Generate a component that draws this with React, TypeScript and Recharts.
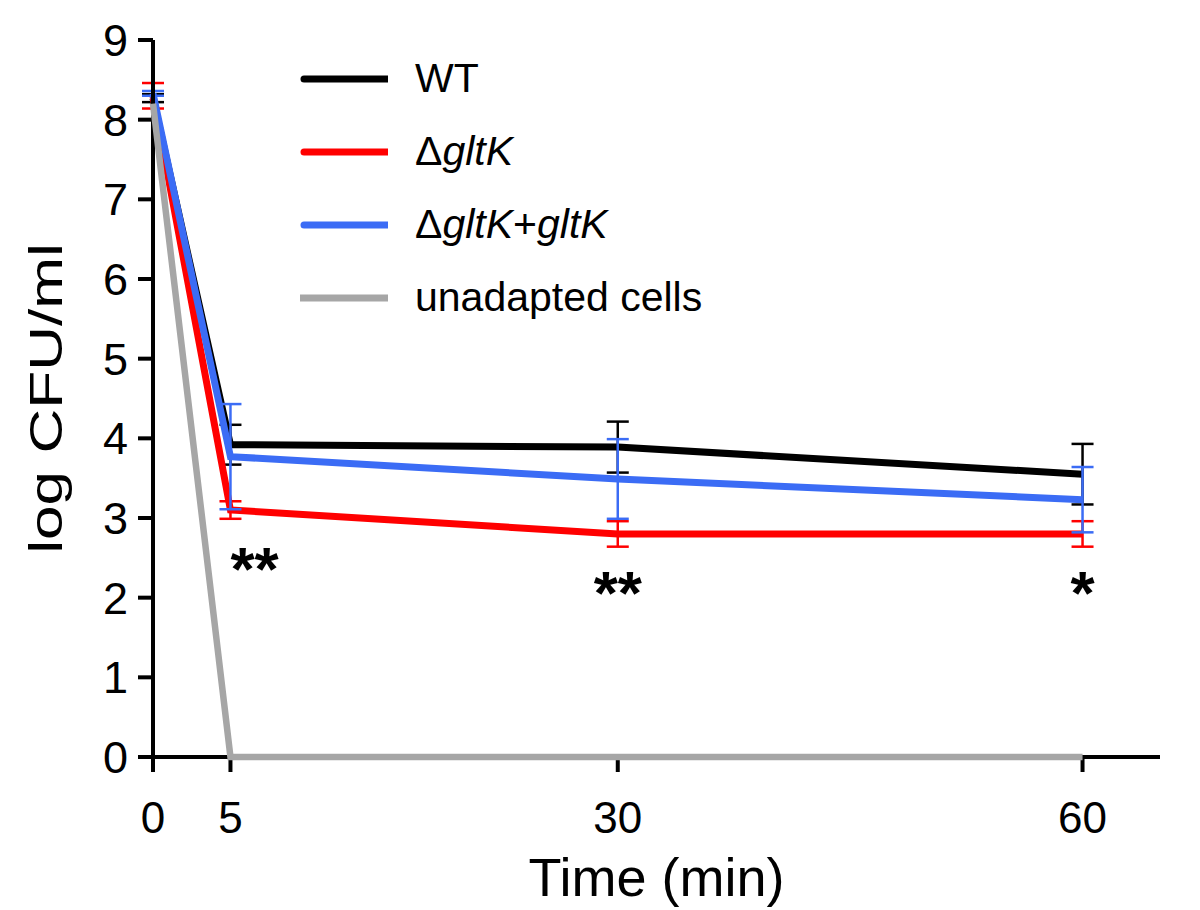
import { ErrorBar, LabelList, Label, Legend, Line, LineChart, XAxis, YAxis } from 'recharts';

const FONT = '"Liberation Sans", Arial, sans-serif';

// sampling times (min)
const times = [0, 5, 30, 60];

// log CFU/ml, mean and error bar half-length
const wtMean = [8.27, 3.92, 3.89, 3.55];
const wtErr = [0.05, 0.25, 0.32, 0.38];
const mutantMean = [8.3, 3.1, 2.8, 2.8];
const mutantErr = [0.16, 0.11, 0.16, 0.16];
const compMean = [8.33, 3.77, 3.49, 3.23];
const compErr = [0.03, 0.66, 0.5, 0.41];
const unadaptedMean = [8.2, 0, 0, 0];

// significance marks (mutant vs WT)
const significance = ['', '**', '**', '*'];

const xTicks = [0, 5, 30, 60];
const yTicks = [0, 1, 2, 3, 4, 5, 6, 7, 8, 9];

const COLORS = {
  wt: '#000000',
  mutant: '#ff0000',
  comp: '#3b6cf5',
  unadapted: '#a6a6a6'
};

const data = times.map((t, i) => ({
  time: t,
  wt: wtMean[i],
  wtErr: wtErr[i],
  mutant: mutantMean[i],
  mutantErr: mutantErr[i],
  comp: compMean[i],
  compErr: compErr[i],
  unadapted: unadaptedMean[i],
  sig: significance[i]
}));

const legendItems = [
  { key: 'wt', label: <>WT</>, round: true },
  { key: 'mutant', label: <>Δ<i>gltK</i></>, round: true },
  { key: 'comp', label: <>Δ<i>gltK</i>+<i>gltK</i></>, round: true },
  { key: 'unadapted', label: <>unadapted cells</>, round: false }
];

const renderLegend = () => (
  <div style={{ fontFamily: FONT, fontSize: 41, color: '#000' }}>
    {legendItems.map((item) => (
      <div key={item.key} style={{ display: 'flex', alignItems: 'center', height: 73 }}>
        <svg width={88} height={10} style={{ marginRight: 27 }}>
          <line
            x1={item.round ? 4 : 0}
            y1={5}
            x2={88}
            y2={5}
            stroke={COLORS[item.key as keyof typeof COLORS]}
            strokeWidth={7}
            strokeLinecap={item.round ? 'round' : 'butt'}
          />
        </svg>
        <span>{item.label}</span>
      </div>
    ))}
  </div>
);

const renderSig = (props: any) => {
  const { x, y, value, index } = props;
  if (!value) return null;
  return (
    <text
      x={x}
      y={y + 80}
      textAnchor={index === 1 ? 'start' : 'middle'}
      fontFamily={FONT}
      fontSize={62}
      fontWeight="bold"
      fill="#000"
    >
      {value}
    </text>
  );
};

const YTitle = (props: any) => {
  const { x, y, height } = props.viewBox;
  return (
    <text
      transform={`translate(${x + 46}, ${y + height / 2}) rotate(-90) scale(1.35, 1)`}
      textAnchor="middle"
      dominantBaseline="central"
      fontFamily={FONT}
      fontSize={46}
      fill="#000"
    >
      log CFU/ml
    </text>
  );
};

export default function App() {
  const axisStyle = { stroke: '#000', strokeWidth: 4 };
  const xTickStyle = { fill: '#000', fontSize: 44, fontFamily: FONT };
  const yTickStyle = { fill: '#000', fontSize: 45, fontFamily: FONT };
  return (
    <div style={{ position: 'absolute', left: 0, top: 0, width: 1200, height: 910, background: '#fff' }}>
      <LineChart width={1200} height={910} data={data} margin={{ top: 40, right: 40, bottom: 0, left: 0 }}>
        <XAxis
          type="number"
          dataKey="time"
          domain={[0, 65]}
          ticks={xTicks}
          interval={0}
          height={153}
          tickSize={15}
          tickMargin={30}
          axisLine={axisStyle}
          tickLine={axisStyle}
          tick={xTickStyle}
        >
          <Label
            value="Time (min)"
            position="insideBottom"
            offset={14}
            style={{ fontFamily: FONT, fontSize: 54, fill: '#000' }}
          />
        </XAxis>
        <YAxis
          type="number"
          domain={[0, 9]}
          ticks={yTicks}
          interval={0}
          width={153}
          tickSize={15}
          tickMargin={10}
          axisLine={axisStyle}
          tickLine={axisStyle}
          tick={yTickStyle}
        >
          <Label content={YTitle} />
        </YAxis>
        <Legend
          layout="vertical"
          align="center"
          verticalAlign="middle"
          content={renderLegend}
          wrapperStyle={{ position: 'absolute', top: 42, left: 300, width: 'auto', height: 'auto' }}
        />
        <Line
          type="linear"
          dataKey="unadapted"
          stroke={COLORS.unadapted}
          strokeWidth={6.5}
          dot={false}
          zIndex={600}
          isAnimationActive={false}
        />
        <Line
          type="linear"
          dataKey="wt"
          stroke={COLORS.wt}
          strokeWidth={7}
          dot={false}
          isAnimationActive={false}
        >
          <ErrorBar dataKey="wtErr" direction="y" width={11} stroke={COLORS.wt} strokeWidth={2.5} />
        </Line>
        <Line
          type="linear"
          dataKey="mutant"
          stroke={COLORS.mutant}
          strokeWidth={7}
          dot={false}
          isAnimationActive={false}
        >
          <ErrorBar dataKey="mutantErr" direction="y" width={11} stroke={COLORS.mutant} strokeWidth={2.5} />
          <LabelList dataKey="sig" content={renderSig} />
        </Line>
        <Line
          type="linear"
          dataKey="comp"
          stroke={COLORS.comp}
          strokeWidth={7}
          dot={false}
          isAnimationActive={false}
        >
          <ErrorBar dataKey="compErr" direction="y" width={11} stroke={COLORS.comp} strokeWidth={2.5} />
        </Line>
      </LineChart>
    </div>
  );
}
